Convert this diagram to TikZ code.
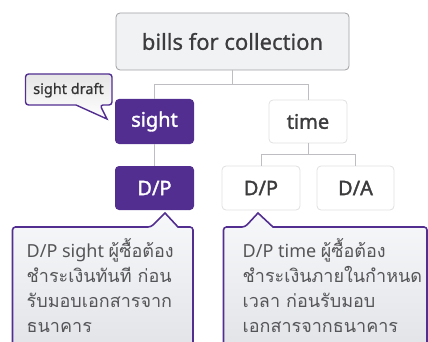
\documentclass[tikz,border=0pt]{standalone}
\usepackage{fontspec}
\setmainfont{Noto Sans}
\newfontfamily\thaifont[Script=Thai]{Loma}
\newfontfamily\lat{Noto Sans}
\newfontfamily\semib[FakeBold=1.6]{Noto Sans}
\newfontfamily\medium[FakeBold=0.8]{Noto Sans}
\definecolor{purp}{RGB}{82,46,145}
\definecolor{rootfill}{RGB}{241,242,244}
\definecolor{rootline}{RGB}{160,160,164}
\definecolor{linkc}{RGB}{190,190,194}
\definecolor{txt}{RGB}{60,60,62}
\definecolor{ctxt}{RGB}{85,85,88}
\definecolor{ctop}{RGB}{247,248,250}
\definecolor{cbot}{RGB}{226,228,232}
\begin{document}
\begin{tikzpicture}[x=1pt,y=-1pt,
  box/.style={rounded corners=4pt, inner sep=0pt},
  purpbox/.style={box, fill=purp},
  whitebox/.style={box, fill=white, draw=black!12, line width=0.8pt},
  lab/.style={inner sep=0pt, font=\semib\fontsize{20}{22}\selectfont},
  link/.style={draw=linkc, line width=1pt},
  callout/.style={draw=purp, line width=1.6pt, rounded corners=3pt, top color=ctop, bottom color=cbot},
  ctext/.style={anchor=base west, inner sep=0pt, text=ctxt, font=\fontsize{18}{20}\selectfont}
]
\useasboundingbox (0,0) rectangle (428,342);

% root
\draw[box, fill=rootfill, draw=rootline, line width=0.8pt] (116,13) rectangle (349,70);
\node[inner sep=0pt, text=txt, font=\medium\fontsize{22}{26}\selectfont] (root) at (232.5,41.5) {bills for collection};
\coordinate (rootb) at (232.5,70);

% level 1
\fill[purpbox] (115,99) rectangle (194,144);
\node[lab, text=white] (sight) at (154.5,121.5) {sight};
\coordinate (sightt) at (154.5,99);
\coordinate (sightb) at (154.5,144);

\draw[whitebox] (269,100) rectangle (347,143);
\node[lab, text=txt] (time) at (308,121.5) {time};
\coordinate (timet) at (308,100);
\coordinate (timeb) at (308,143);

% level 2
\fill[purpbox] (115,166) rectangle (194,210);
\node[lab, text=white] (dp1) at (154.5,188) {D/P};
\coordinate (dp1t) at (154.5,166);

\draw[whitebox] (222,166) rectangle (300,210);
\node[lab, text=txt] (dp2) at (261,188) {D/P};
\coordinate (dp2t) at (261,166);

\draw[whitebox] (317,166) rectangle (394,210);
\node[lab, text=txt] (da) at (355.5,188) {D/A};
\coordinate (dat) at (355.5,166);

% connectors
\draw[link] (rootb) -- ++(0,15) -| (sightt);
\draw[link] (rootb) -- ++(0,15) -| (timet);
\draw[link] (sightb) -- (dp1t);
\draw[link] (timeb) -- ++(0,11) -| (dp2t);
\draw[link] (timeb) -- ++(0,11) -| (dat);

% sight draft callout
\draw[draw=purp, line width=1.4pt, rounded corners=3pt, top color=black!10, bottom color=white]
  (25.5,74) -- (112,74) -- (112,105) -- (100,105) [sharp corners]-- (107,119) -- (76,105) [rounded corners=3pt] -- (25.5,105) -- cycle;
\node[inner sep=0pt, anchor=base, text=black!80, font=\medium\fontsize{14.5}{16}\selectfont] (sd) at (68.5,94) {sight draft};

% callout 1
\draw[callout] (12.5,345) -- (12.5,227) -- (151,227) [sharp corners]-- (165,213) -- (178,227) [rounded corners=3pt] -- (193,227) -- (193,345);
\node[ctext] (c1a) at (26.5,257) {\lat D/P sight \thaifont ผู้ซื้อต้อง};
\node[ctext] (c1b) at (26.5,282) {\thaifont ชำระเงินทันที ก่อน};
\node[ctext] (c1c) at (26.5,307) {\thaifont รับมอบเอกสารจาก};
\node[ctext] (c1d) at (26.5,332) {\thaifont ธนาคาร};

% callout 2
\draw[callout] (223.5,345) -- (223.5,227) -- (245,227) [sharp corners]-- (258,213) -- (273,227) [rounded corners=3pt] -- (427,227) -- (427,345);
\node[ctext] (c2a) at (242.5,257) {\lat D/P time \thaifont ผู้ซื้อต้อง};
\node[ctext] (c2b) at (242.5,282) {\thaifont ชำระเงินภายในกำหนด};
\node[ctext] (c2c) at (242.5,307) {\thaifont เวลา ก่อนรับมอบ};
\node[ctext] (c2d) at (242.5,332) {\thaifont เอกสารจากธนาคาร};
\end{tikzpicture}
\end{document}
